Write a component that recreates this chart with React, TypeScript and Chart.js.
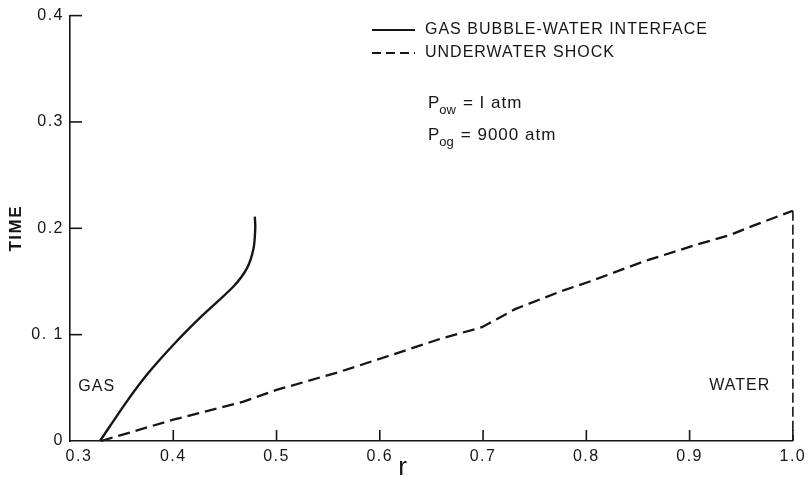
import React, { useEffect, useRef } from "react";
import { Chart, registerables } from "chart.js";

Chart.register(...registerables);

// Gas bubble - water interface (solid)
const interfaceR = [0.329, 0.3556, 0.375, 0.4006, 0.426, 0.4585, 0.4714, 0.4777, 0.4794, 0.479];
const interfaceT = [0, 0.038, 0.063, 0.091, 0.116, 0.1455, 0.1625, 0.181, 0.2, 0.211];

// Underwater shock (dashed)
const shockR = [0.33, 0.4, 0.468, 0.5, 0.561, 0.601, 0.66, 0.699, 0.731, 0.776, 0.805, 0.856, 0.908, 0.94, 0.963, 1.0, 1.0];
const shockT = [0, 0.02, 0.037, 0.048, 0.065, 0.0776, 0.0965, 0.107, 0.124, 0.141, 0.1505, 0.169, 0.185, 0.194, 0.203, 0.2165, 0];

const xTickValues = [0.3, 0.4, 0.5, 0.6, 0.7, 0.8, 0.9, 1.0];
const yTickValues = [0, 0.1, 0.2, 0.3, 0.4];
const xTickLabels = ["   0.3", "0.4", "0.5", "0.6", "0.7", "0.8", "0.9", "1.0"];
const yTickLabels = ["0", "0. 1", "0.2", "0.3", "0.4"];

const legendLabels = ["GAS BUBBLE-WATER INTERFACE", "UNDERWATER SHOCK"];
const regionLabels = ["GAS", "WATER"];
const pressureSubs = ["ow", "og"];
const pressureValues = ["= I atm", "= 9000 atm"];
const xTitle = "r";
const yTitle = "TIME";

const INK = "#161616";
const FONT = "'Liberation Sans', Arial, sans-serif";

const decorPlugin = {
  id: "decor",
  beforeDraw(chart: any) {
    (chart.ctx as any).letterSpacing = "1.5px";
  },
  afterDraw(chart: any) {
    const ctx = chart.ctx as CanvasRenderingContext2D;
    (ctx as any).letterSpacing = "0px";
    const xs = chart.scales.x;
    const ys = chart.scales.y;
    const x0 = xs.getPixelForValue(0.3);
    const y0 = ys.getPixelForValue(0);
    ctx.save();
    ctx.strokeStyle = INK;
    ctx.fillStyle = INK;
    ctx.lineWidth = 1.6;
    // inward ticks
    xTickValues.forEach((v) => {
      if (v === 0.3) return;
      const px = xs.getPixelForValue(v);
      ctx.beginPath();
      ctx.moveTo(px, y0);
      ctx.lineTo(px, y0 - 11);
      ctx.stroke();
    });
    yTickValues.forEach((v) => {
      if (v === 0) return;
      const py = ys.getPixelForValue(v);
      ctx.beginPath();
      ctx.moveTo(x0, py);
      ctx.lineTo(x0 + 12, py);
      ctx.stroke();
    });

    // x title
    ctx.font = `26px ${FONT}`;
    ctx.textAlign = "center";
    ctx.textBaseline = "middle";
    ctx.fillText(xTitle, xs.getPixelForValue(0.622), 468);

    // region labels
    ctx.font = `16px ${FONT}`;
    ctx.textAlign = "left";
    (ctx as any).letterSpacing = "1px";
    ctx.fillText(regionLabels[0], xs.getPixelForValue(0.308), ys.getPixelForValue(0.051));
    ctx.fillText(regionLabels[1], xs.getPixelForValue(0.919), ys.getPixelForValue(0.052));

    // legend
    const lx1 = 372;
    const lx2 = 415;
    const tx = 425;
    const ly = [30, 53];
    ctx.lineWidth = 2.2;
    ctx.beginPath();
    ctx.moveTo(lx1, ly[0]);
    ctx.lineTo(lx2, ly[0]);
    ctx.stroke();
    ctx.setLineDash([9, 5]);
    ctx.beginPath();
    ctx.moveTo(lx1, ly[1]);
    ctx.lineTo(lx2, ly[1]);
    ctx.stroke();
    ctx.setLineDash([]);
    ctx.font = `16px ${FONT}`;
    (ctx as any).letterSpacing = "1px";
    ctx.fillText(legendLabels[0], tx, ly[0]);
    ctx.fillText(legendLabels[1], tx, ly[1]);

    // pressures
    const drawP = (sub: string, rest: string, y: number) => {
      (ctx as any).letterSpacing = "0px";
      ctx.font = `17px ${FONT}`;
      ctx.fillText("P", tx + 3, y);
      let w = ctx.measureText("P").width;
      ctx.font = `13px ${FONT}`;
      ctx.fillText(sub, tx + 3 + w, y + 7);
      w += ctx.measureText(sub).width + 7;
      ctx.font = `17px ${FONT}`;
      (ctx as any).letterSpacing = "1px";
      ctx.fillText(rest, tx + 3 + w, y);
    };
    drawP(pressureSubs[0], pressureValues[0], 103);
    drawP(pressureSubs[1], pressureValues[1], 135);
    (ctx as any).letterSpacing = "0px";
    ctx.restore();
  },
};

export default function App() {
  const ref = useRef<HTMLCanvasElement | null>(null);
  useEffect(() => {
    if (!ref.current) return;
    const chart = new Chart(ref.current, {
      type: "line",
      data: {
        datasets: [
          {
            label: legendLabels[0],
            data: interfaceR.map((r, i) => ({ x: r, y: interfaceT[i] })),
            borderColor: INK,
            borderWidth: 2.4,
            pointRadius: 0,
            tension: 0.3,
            fill: false,
            clip: 4,
          },
          {
            label: legendLabels[1],
            data: shockR.map((r, i) => ({ x: r, y: shockT[i] })),
            borderColor: INK,
            borderWidth: 2.3,
            borderDash: [12, 6],
            pointRadius: 0,
            tension: 0,
            fill: false,
            clip: 6,
            segment: {
              borderDash: (c: any) => (c.p0.parsed.x >= 0.999 && c.p1.parsed.x >= 0.999 ? [10, 4] : undefined),
              borderWidth: (c: any) => (c.p0.parsed.x >= 0.999 && c.p1.parsed.x >= 0.999 ? 1.6 : undefined),
            },
          },
        ],
      },
      options: {
        responsive: false,
        animation: false,
        layout: { padding: { top: 12, right: 14, left: 0, bottom: 0 } },
        plugins: { legend: { display: false }, tooltip: { enabled: false }, title: { display: false } },
        scales: {
          x: {
            type: "linear",
            min: 0.3,
            max: 1.0,
            afterFit: (s: any) => {
              s.height = 41;
            },
            afterBuildTicks: (s: any) => {
              s.ticks = xTickValues.map((v) => ({ value: v }));
            },
            grid: { display: false, drawTicks: false },
            border: { display: true, color: INK, width: 1.6 },
            ticks: {
              padding: 6,
              maxRotation: 0,
              autoSkip: false,
              color: INK,
              font: { family: FONT, size: 16 },
              callback: (v: any) => {
                const i = xTickValues.findIndex((t) => Math.abs(t - v) < 1e-6);
                return i >= 0 ? xTickLabels[i] : "";
              },
            },
          },
          y: {
            type: "linear",
            min: 0,
            max: 0.4,
            afterFit: (s: any) => {
              s.width = 70;
            },
            afterBuildTicks: (s: any) => {
              s.ticks = yTickValues.map((v) => ({ value: v }));
            },
            grid: { display: false, drawTicks: false },
            border: { display: true, color: INK, width: 1.6 },
            ticks: {
              padding: 6,
              color: INK,
              font: { family: FONT, size: 16 },
              callback: (v: any) => {
                const i = yTickValues.findIndex((t) => Math.abs(t - v) < 1e-6);
                return i >= 0 ? yTickLabels[i] : "";
              },
            },
            title: {
              display: true,
              text: yTitle,
              color: INK,
              font: { family: FONT, size: 17, weight: "bold" },
              padding: { top: 6, bottom: 0 },
            },
          },
        },
      },
      plugins: [decorPlugin],
    } as any);
    return () => chart.destroy();
  }, []);
  return (
    <div style={{ position: "absolute", left: 0, top: 0, width: 810, height: 482, background: "#fff" }}>
      <canvas ref={ref} width={810} height={482} style={{ display: "block" }} />
    </div>
  );
}
